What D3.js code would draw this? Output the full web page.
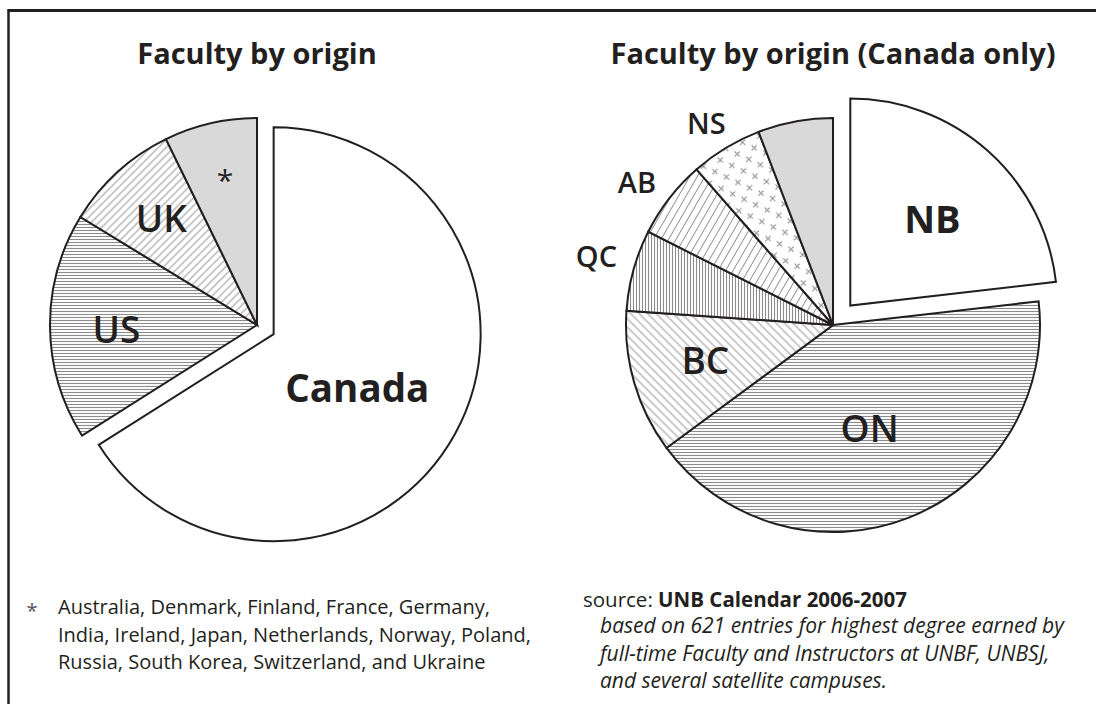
<!DOCTYPE html>
<html>
<head>
<meta charset="utf-8">
<script src="https://cdn.jsdelivr.net/npm/d3@7"></script>
<style>
body { margin: 0; background: #fff; }
svg { display: block; font-family: "Open Sans", sans-serif; }
</style>
</head>
<body>
<svg id="chart" width="1096" height="704"></svg>
<script>
// left pie: highest degree earned, by country (621 entries)
const originNames = ["Canada", "US", "UK", "*"];
const originCounts = [410, 110, 56, 45];

// right pie: the Canadian part, by province
const provinceNames = ["NB", "ON", "BC", "QC", "AB", "NS", ""];
const provinceCounts = [95, 171, 46, 26, 25, 23, 24];

const titles = ["Faculty by origin", "Faculty by origin (Canada only)"];

const footnoteLines = [
    "Australia, Denmark, Finland, France, Germany,",
    "India, Ireland, Japan, Netherlands, Norway, Poland,",
    "Russia, South Korea, Switzerland, and Ukraine"
];
const sourceLabel = "source: ";
const sourceTitle = "UNB Calendar 2006-2007";
const sourceLines = [
    "based on 621 entries for highest degree earned by",
    "full-time Faculty and Instructors at UNBF, UNBSJ,",
    "and several satellite campuses."
];

const ink = "#231f20";
const svg = d3.select("#chart");

// frame (only top and left edges fall inside the picture)
svg.append("line").attr("x1", 8).attr("x2", 1096).attr("y1", 10.5).attr("y2", 10.5)
    .attr("stroke", ink).attr("stroke-width", 3);
svg.append("line").attr("x1", 8.5).attr("x2", 8.5).attr("y1", 9).attr("y2", 704)
    .attr("stroke", ink).attr("stroke-width", 2.5);

// fill patterns
const defs = svg.append("defs");
function linePattern(id, size, angle, color, width) {
    const p = defs.append("pattern").attr("id", id)
        .attr("patternUnits", "userSpaceOnUse")
        .attr("width", size).attr("height", size)
        .attr("patternTransform", "rotate(" + angle + ")");
    p.append("rect").attr("width", size).attr("height", size).attr("fill", "#fff");
    p.append("line").attr("x1", size / 2).attr("x2", size / 2)
        .attr("y1", 0).attr("y2", size)
        .attr("stroke", color).attr("stroke-width", width);
}
linePattern("horiz", 3, 90, "#8c8c8c", 1.1);
linePattern("vert", 3, 0, "#8c8c8c", 1.1);
linePattern("fdiag", 5.5, 45, "#8a8a8a", 0.9);
linePattern("bdiag", 6, -45, "#8a8a8a", 0.9);
linePattern("steep", 6.5, 30, "#8a8a8a", 0.9);

const cross = defs.append("pattern").attr("id", "cross")
    .attr("patternUnits", "userSpaceOnUse")
    .attr("width", 18).attr("height", 18)
    .attr("patternTransform", "rotate(-20)");
cross.append("rect").attr("width", 18).attr("height", 18).attr("fill", "#fff");
[[4.5, 4.5], [13.5, 13.5]].forEach(function(c) {
    cross.append("path")
        .attr("d", "M" + (c[0] - 2.6) + "," + (c[1] - 2.6) + "l5.2,5.2M" + (c[0] + 2.6) + "," + (c[1] - 2.6) + "l-5.2,5.2")
        .attr("stroke", "#7a7a7a").attr("stroke-width", 0.9)
        .attr("transform", "rotate(20," + c[0] + "," + c[1] + ")");
});

const radius = 207;

function drawPie(cfg) {
    const slices = d3.pie().sort(null).value(d => d)(cfg.values);
    const arc = d3.arc().innerRadius(0).outerRadius(radius);
    const g = svg.append("g").attr("transform", "translate(" + cfg.cx + "," + cfg.cy + ")");

    function shift(d) {
        if (d.index !== cfg.explode) return [0, 0];
        const mid = (d.startAngle + d.endAngle) / 2;
        return [cfg.offset * Math.sin(mid), -cfg.offset * Math.cos(mid)];
    }

    g.selectAll("path.slice")
        .data(slices)
      .enter().append("path")
        .attr("class", "slice")
        .attr("d", arc)
        .attr("transform", d => "translate(" + shift(d) + ")")
        .attr("fill", (d, i) => cfg.fills[i])
        .attr("stroke", ink)
        .attr("stroke-width", 2)
        .attr("stroke-linejoin", "miter");

    g.selectAll("text.lab")
        .data(slices)
      .enter().append("text")
        .attr("class", "lab")
        .attr("text-anchor", "middle")
        .attr("fill", ink)
        .attr("font-size", (d, i) => cfg.labels[i].size)
        .attr("font-weight", (d, i) => cfg.labels[i].weight)
        .attr("dy", (d, i) => cfg.labels[i].dy + "em")
        .attr("x", (d, i) => {
            const a = (d.startAngle + d.endAngle) / 2 + cfg.labels[i].da * Math.PI / 180;
            return shift(d)[0] + cfg.labels[i].r * radius * Math.sin(a);
        })
        .attr("y", (d, i) => {
            const a = (d.startAngle + d.endAngle) / 2 + cfg.labels[i].da * Math.PI / 180;
            return shift(d)[1] - cfg.labels[i].r * radius * Math.cos(a);
        })
        .text((d, i) => cfg.names[i]);

    svg.append("text")
        .attr("x", cfg.cx).attr("y", 64)
        .attr("text-anchor", "middle")
        .attr("font-size", 29).attr("font-weight", 700)
        .attr("fill", ink)
        .text(cfg.title);
}

drawPie({
    cx: 257, cy: 325,
    values: originCounts, names: originNames, title: titles[0],
    explode: 0, offset: 19,
    fills: ["#fff", "url(#horiz)", "url(#fdiag)", "#d9d9da"],
    labels: [
        {r: 0.48, da: 3.8, size: 38.5, weight: 700, dy: 0.36},
        {r: 0.68, da: -1.6, size: 37, weight: 600, dy: 0.36},
        {r: 0.69, da: 0.3, size: 37, weight: 600, dy: 0.36},
        {r: 0.74, da: 1, size: 30, weight: 400, dy: 0.52}
    ]
});

drawPie({
    cx: 833, cy: 325,
    values: provinceCounts, names: provinceNames, title: titles[1],
    explode: 0, offset: 26,
    fills: ["#fff", "url(#horiz)", "url(#bdiag)", "url(#vert)", "url(#steep)", "url(#cross)", "#d9d9da"],
    labels: [
        {r: 0.575, da: 1.9, size: 38, weight: 700, dy: 0.36},
        {r: 0.53, da: 2, size: 37, weight: 600, dy: 0.36},
        {r: 0.64, da: 0.7, size: 37, weight: 600, dy: 0.36},
        {r: 1.19, da: 0.8, size: 29, weight: 600, dy: 0.36},
        {r: 1.17, da: -1.8, size: 29, weight: 600, dy: 0.36},
        {r: 1.15, da: -1, size: 29, weight: 600, dy: 0.36},
        {r: 1, da: 0, size: 10, weight: 400, dy: 0}
    ]
});

// footnote for the asterisk
svg.append("text").attr("x", 32).attr("y", 618)
    .attr("text-anchor", "middle").attr("font-size", 20).attr("fill", "#555")
    .text("*");
svg.append("g").selectAll("text")
    .data(footnoteLines)
  .enter().append("text")
    .attr("x", 58)
    .attr("y", (d, i) => 614 + i * 27.5)
    .attr("font-size", 20)
    .attr("fill", ink)
    .text(d => d);

// source note
const src = svg.append("text").attr("x", 583).attr("y", 607)
    .attr("font-size", 20.5).attr("fill", ink);
src.append("tspan").text(sourceLabel);
src.append("tspan").attr("font-weight", 700).text(sourceTitle);

svg.append("g").selectAll("text")
    .data(sourceLines)
  .enter().append("text")
    .attr("x", 600)
    .attr("y", (d, i) => 633 + i * 27.5)
    .attr("font-size", 21)
    .attr("font-style", "italic")
    .attr("fill", ink)
    .text(d => d);
</script>
</body>
</html>
